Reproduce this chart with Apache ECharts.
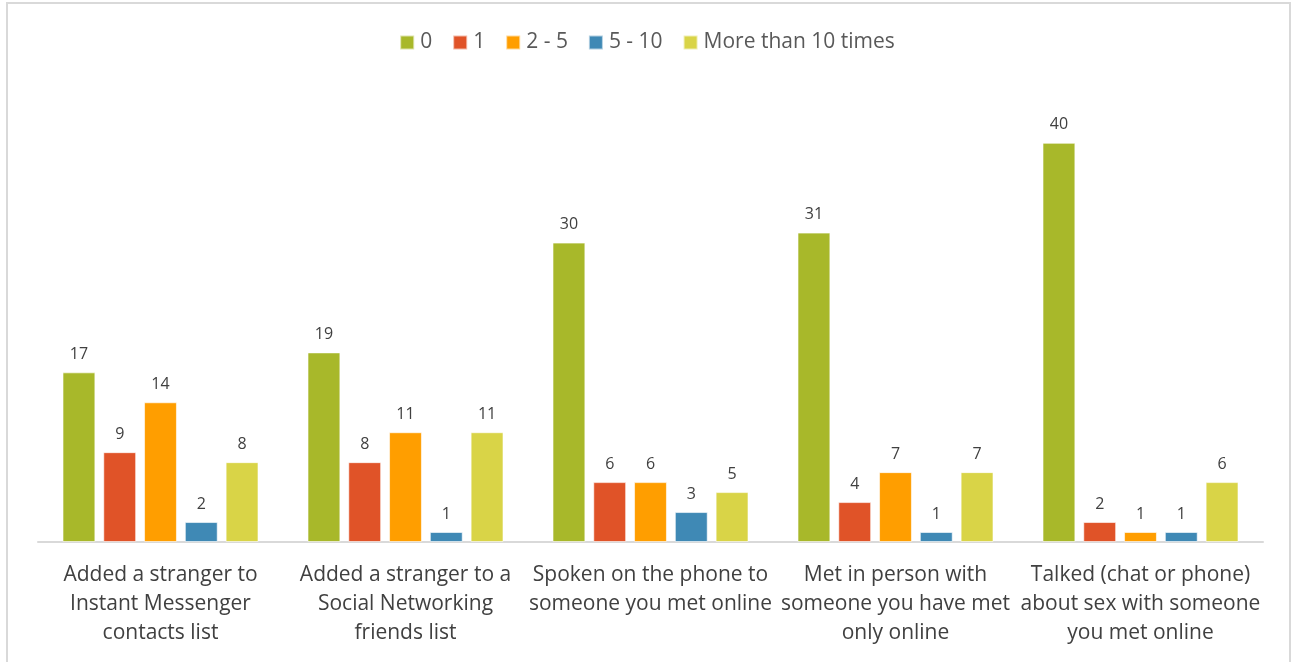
<!DOCTYPE html>
<html>
<head>
<meta charset="utf-8">
<script src="https://cdn.jsdelivr.net/npm/echarts@6/dist/echarts.min.js"></script>
<style>
  html, body { margin: 0; padding: 0; background: #fff; }
  #chart { width: 1294px; height: 662px; }
</style>
</head>
<body>
<div id="chart"></div>
<script>
const categories = [
  'Added a stranger to\nInstant Messenger\ncontacts list',
  'Added a stranger to a\nSocial Networking\nfriends list',
  'Spoken on the phone to\nsomeone you met online',
  'Met in person with\nsomeone you have met\nonly online',
  'Talked (chat or phone)\nabout sex with someone\nyou met online',
];
const seriesNames = ['0', '1', '2 - 5', '5 - 10', 'More than 10 times'];
const zeroTimes = [17, 19, 30, 31, 40];
const oneTime = [9, 8, 6, 4, 2];
const twoToFive = [14, 11, 6, 7, 1];
const fiveToTen = [2, 1, 3, 1, 1];
const moreThanTen = [8, 11, 5, 7, 6];
const colors = ['#a8b82a', '#e05328', '#ff9e00', '#3f89b5', '#d9d447'];

const values = [zeroTimes, oneTime, twoToFive, fiveToTen, moreThanTen];
const fontFamily = '"Open Sans", sans-serif';

const chart = echarts.init(document.getElementById('chart'), null, { renderer: 'canvas' });
chart.setOption({
  backgroundColor: '#fff',
  animation: false,
  color: colors,
  graphic: [{
    type: 'rect',
    shape: { x: 7, y: 3, width: 1283, height: 670 },
    style: { fill: 'none', stroke: '#d9d9d9', lineWidth: 2 },
    silent: true,
  }],
  legend: {
    top: 27,
    left: 'center',
    itemWidth: 14,
    itemHeight: 14,
    itemGap: 20,
    icon: 'rect',
    textStyle: { fontFamily, fontSize: 21, color: '#595959', padding: [0, 0, 0, 1] },
    data: seriesNames,
  },
  grid: { left: 38, right: 31, top: 43, bottom: 120, containLabel: false },
  xAxis: {
    type: 'category',
    data: categories,
    axisLine: { lineStyle: { color: '#d9d9d9', width: 2 } },
    axisTick: { show: false },
    axisLabel: { fontFamily, fontSize: 21, color: '#404040', lineHeight: 29, margin: 19, interval: 0 },
  },
  yAxis: {
    type: 'value',
    min: 0,
    max: 50,
    show: false,
    splitLine: { show: false },
  },
  series: values.map((vals, i) => ({
    name: seriesNames[i],
    type: 'bar',
    data: vals,
    barGap: '24%',
    barCategoryGap: '20%',
    itemStyle: { color: colors[i], borderColor: 'rgba(255,255,255,0.6)', borderWidth: 1 },
    label: {
      show: true,
      position: 'top',
      distance: 10,
      fontFamily,
      fontSize: 16,
      color: '#404040',
    },
  })),
});
</script>
</body>
</html>
